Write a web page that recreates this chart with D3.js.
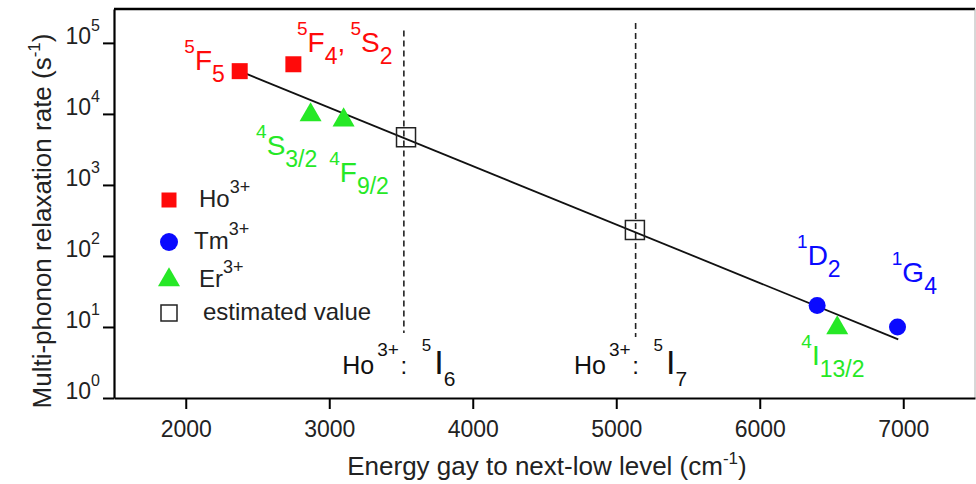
<!DOCTYPE html>
<html><head><meta charset="utf-8">
<script src="https://cdn.jsdelivr.net/npm/d3@7"></script>
<style>
html,body{margin:0;padding:0;background:#fff;}
svg{display:block;font-family:"Liberation Sans",Arial,Helvetica,sans-serif;}
</style></head><body>
<svg id="chart" width="976" height="484"></svg>
<script>
// Multi-phonon relaxation rate against the energy gap to the next-lower level
const hoEnergy = [2376, 2750];
const hoRate = [40000, 50000];
const tmEnergy = [6400, 6960];
const tmRate = [20, 10];
const erEnergy = [2870, 3100, 6540];
const erRate = [9700, 8200, 9.7];
const estEnergy = [3535, 5130];
const estRate = [4700, 232];
const fitEnergy = [2376, 6965];
const fitRate = [40000, 6.7];
// Ho3+ 5I6 and 5I7 gap markers
const hoLevelEnergy = [3520, 5135];
const hoLevelIndex = ["6", "7"];
const hoLevelTop = [1.5e5, 1.9e5];
const hoLevelBottom = [8.2, 7.2];
const hoLevelLabelRate = 2.15;
const xMajorTicks = [2000, 3000, 4000, 5000, 6000, 7000];
const xMinorTicks = [1500, 2500, 3500, 4500, 5500, 6500, 7500];
const yTicks = [1, 10, 100, 1000, 10000, 100000];
const yTickExponents = ["0", "1", "2", "3", "4", "5"];

const RED = "#ff0a0a", BLUE = "#0a0aff", GREEN = "#26e826";

// state labels: text parts and the anchor (energy, rate) of their baseline start
const stateLabels = [
  {e: 1990, r: 41500, c: RED,   parts: [["sup","5"],["m","F"],["sub","5"]]},
  {e: 2775, r: 74500, c: RED,   parts: [["sup","5"],["m","F"],["sub","4"],["m",","],["sup"," 5"],["m","S"],["sub","2"]]},
  {e: 2490, r: 2640,  c: GREEN, parts: [["sup","4"],["m","S"],["sub","3/2"]]},
  {e: 3000, r: 1100,  c: GREEN, parts: [["sup","4"],["m","F"],["sub","9/2"]]},
  {e: 6260, r: 75,    c: BLUE,  parts: [["sup","1"],["m","D"],["sub","2"]]},
  {e: 6920, r: 43,    c: BLUE,  parts: [["sup","1"],["m","G"],["sub","4"]]},
  {e: 6290, r: 2.9,   c: GREEN, parts: [["sup","4"],["m","I"],["sub","13/2"]]}
];

const svg = d3.select("#chart");
const x = d3.scaleLinear().domain([1500, 7500]).range([114, 975]);
const y = d3.scaleLog().domain([1, 3e5]).range([398, 9]);

function rich(textSel, parts, size, shift, gap) {
  let cur = 0;
  parts.forEach(([k, t]) => {
    const off = shift[k] || 0;
    const ts = textSel.append("tspan").attr("dy", off - cur).attr("font-size", size[k]).text(t);
    if (gap && gap[k]) ts.attr("dx", gap[k]);
    cur = off;
  });
}

// frame: top and right edges
svg.append("line").attr("x1", 114).attr("x2", 975).attr("y1", 9).attr("y2", 9)
  .attr("stroke", "#000").attr("stroke-width", 2.6);
svg.append("line").attr("x1", 975).attr("x2", 975).attr("y1", 9).attr("y2", 398)
  .attr("stroke", "#b0b0b0").attr("stroke-width", 1);

// x axis
const gx = svg.append("g").attr("transform", "translate(0,398)");
gx.call(d3.axisBottom(x).tickValues(xMinorTicks).tickSize(6).tickSizeOuter(0).tickFormat(""));
gx.call(d3.axisBottom(x).tickValues(xMajorTicks).tickSize(11).tickSizeOuter(0).tickFormat(d3.format("d")));
gx.selectAll(".domain").attr("stroke", "#000").attr("stroke-width", 2.2);
gx.selectAll(".tick line").attr("stroke", "#000").attr("stroke-width", 2);
gx.selectAll(".tick text").attr("y", 39).attr("dy", 0)
  .attr("font-size", 23).attr("fill", "#222").attr("font-family", "Liberation Sans, Arial, sans-serif");

// y axis (log decades)
const gy = svg.append("g").attr("transform", "translate(114,0)");
gy.call(d3.axisLeft(y).tickValues(yTicks).tickSize(11).tickSizeOuter(0).tickFormat(""));
gy.selectAll(".domain").attr("stroke", "#000").attr("stroke-width", 2.2);
gy.selectAll(".tick line").attr("stroke", "#000").attr("stroke-width", 2);
yTicks.forEach((v, i) => {
  const t = gy.append("text").attr("x", -14).attr("y", y(v) + 1)
    .attr("text-anchor", "end").attr("fill", "#222");
  rich(t, [["m", "10"], ["sup", yTickExponents[i]]], {m: 23, sup: 16}, {sup: -13});
});

// axis titles
const yt = svg.append("text").attr("transform", "translate(51,221) rotate(-90)")
  .attr("text-anchor", "middle").attr("fill", "#222");
rich(yt, [["m", "Multi-phonon relaxation rate (s"], ["sup", "-1"], ["m", ")"]], {m: 26, sup: 17}, {sup: -11});
const xt = svg.append("text").attr("x", 547).attr("y", 475)
  .attr("text-anchor", "middle").attr("fill", "#222");
rich(xt, [["m", "Energy gay to next-low level (cm"], ["sup", "-1"], ["m", ")"]], {m: 26, sup: 17}, {sup: -11});

// Ho3+ level markers (dashed)
hoLevelEnergy.forEach((e, i) => {
  svg.append("line").attr("x1", x(e)).attr("x2", x(e))
    .attr("y1", y(hoLevelTop[i])).attr("y2", y(hoLevelBottom[i]))
    .attr("stroke", "#222").attr("stroke-width", 1.6).attr("stroke-dasharray", "6,4");
  const by = y(hoLevelLabelRate);
  const a = svg.append("text").attr("x", x(e) - 5).attr("y", by).attr("text-anchor", "end").attr("fill", "#111");
  rich(a, [["m", "Ho"], ["sup", "3+"]], {m: 25, sup: 19}, {sup: -18}, {sup: 3});
  svg.append("text").attr("x", x(e)).attr("y", by).attr("text-anchor", "middle")
    .attr("font-size", 24).attr("fill", "#111").text(":");
  const b = svg.append("text").attr("x", x(e) + 18).attr("y", by).attr("fill", "#111");
  rich(b, [["sup", "5"], ["m", "I"], ["sub", hoLevelIndex[i]]], {m: 34, sup: 17, sub: 21}, {sup: -23, sub: 12}, {m: 3});
});

// exponential fit
svg.append("path")
  .datum(fitEnergy.map((e, i) => [e, fitRate[i]]))
  .attr("d", d3.line().x(d => x(d[0])).y(d => y(d[1])))
  .attr("fill", "none").attr("stroke", "#111").attr("stroke-width", 1.8);

// data markers
function markers(energy, rate, type, size, fill, stroke) {
  svg.append("g").selectAll("path").data(energy.map((e, i) => [e, rate[i]])).join("path")
    .attr("transform", d => `translate(${x(d[0])},${y(d[1])})`)
    .attr("d", d3.symbol().type(type).size(size))
    .attr("fill", fill).attr("stroke", stroke || "none").attr("stroke-width", 1.5);
}
markers(estEnergy, estRate, d3.symbolSquare, 361, "none", "#222");
markers(hoEnergy, hoRate, d3.symbolSquare, 256, RED);
markers(tmEnergy, tmRate, d3.symbolCircle, 227, BLUE);
markers(erEnergy, erRate, d3.symbolTriangle, 210, GREEN);

// state labels
stateLabels.forEach(l => {
  const t = svg.append("text").attr("x", x(l.e)).attr("y", y(l.r)).attr("fill", l.c);
  rich(t, l.parts, {m: 28, sup: 19, sub: 23}, {sup: -17, sub: 12});
});

// legend
const legendRows = [
  {label: "Ho", sup: "3+", type: d3.symbolSquare, size: 225, fill: RED, stroke: null, y: 200, tx: 199},
  {label: "Tm", sup: "3+", type: d3.symbolCircle, size: 254, fill: BLUE, stroke: null, y: 242, tx: 194},
  {label: "Er", sup: "3+", type: d3.symbolTriangle, size: 210, fill: GREEN, stroke: null, y: 280, tx: 199},
  {label: "estimated value", sup: null, type: d3.symbolSquare, size: 256, fill: "none", stroke: "#222", y: 313, tx: 203}
];
const lg = svg.append("g");
legendRows.forEach(r => {
  lg.append("path").attr("transform", `translate(169,${r.y})`)
    .attr("d", d3.symbol().type(r.type).size(r.size))
    .attr("fill", r.fill).attr("stroke", r.stroke || "none").attr("stroke-width", 1.5);
  const t = lg.append("text").attr("x", r.tx).attr("y", r.y + 7).attr("fill", "#222");
  const parts = [["m", r.label]];
  if (r.sup) parts.push(["sup", r.sup]);
  rich(t, parts, {m: 24, sup: 18}, {sup: -14});
});
</script>
</body></html>
